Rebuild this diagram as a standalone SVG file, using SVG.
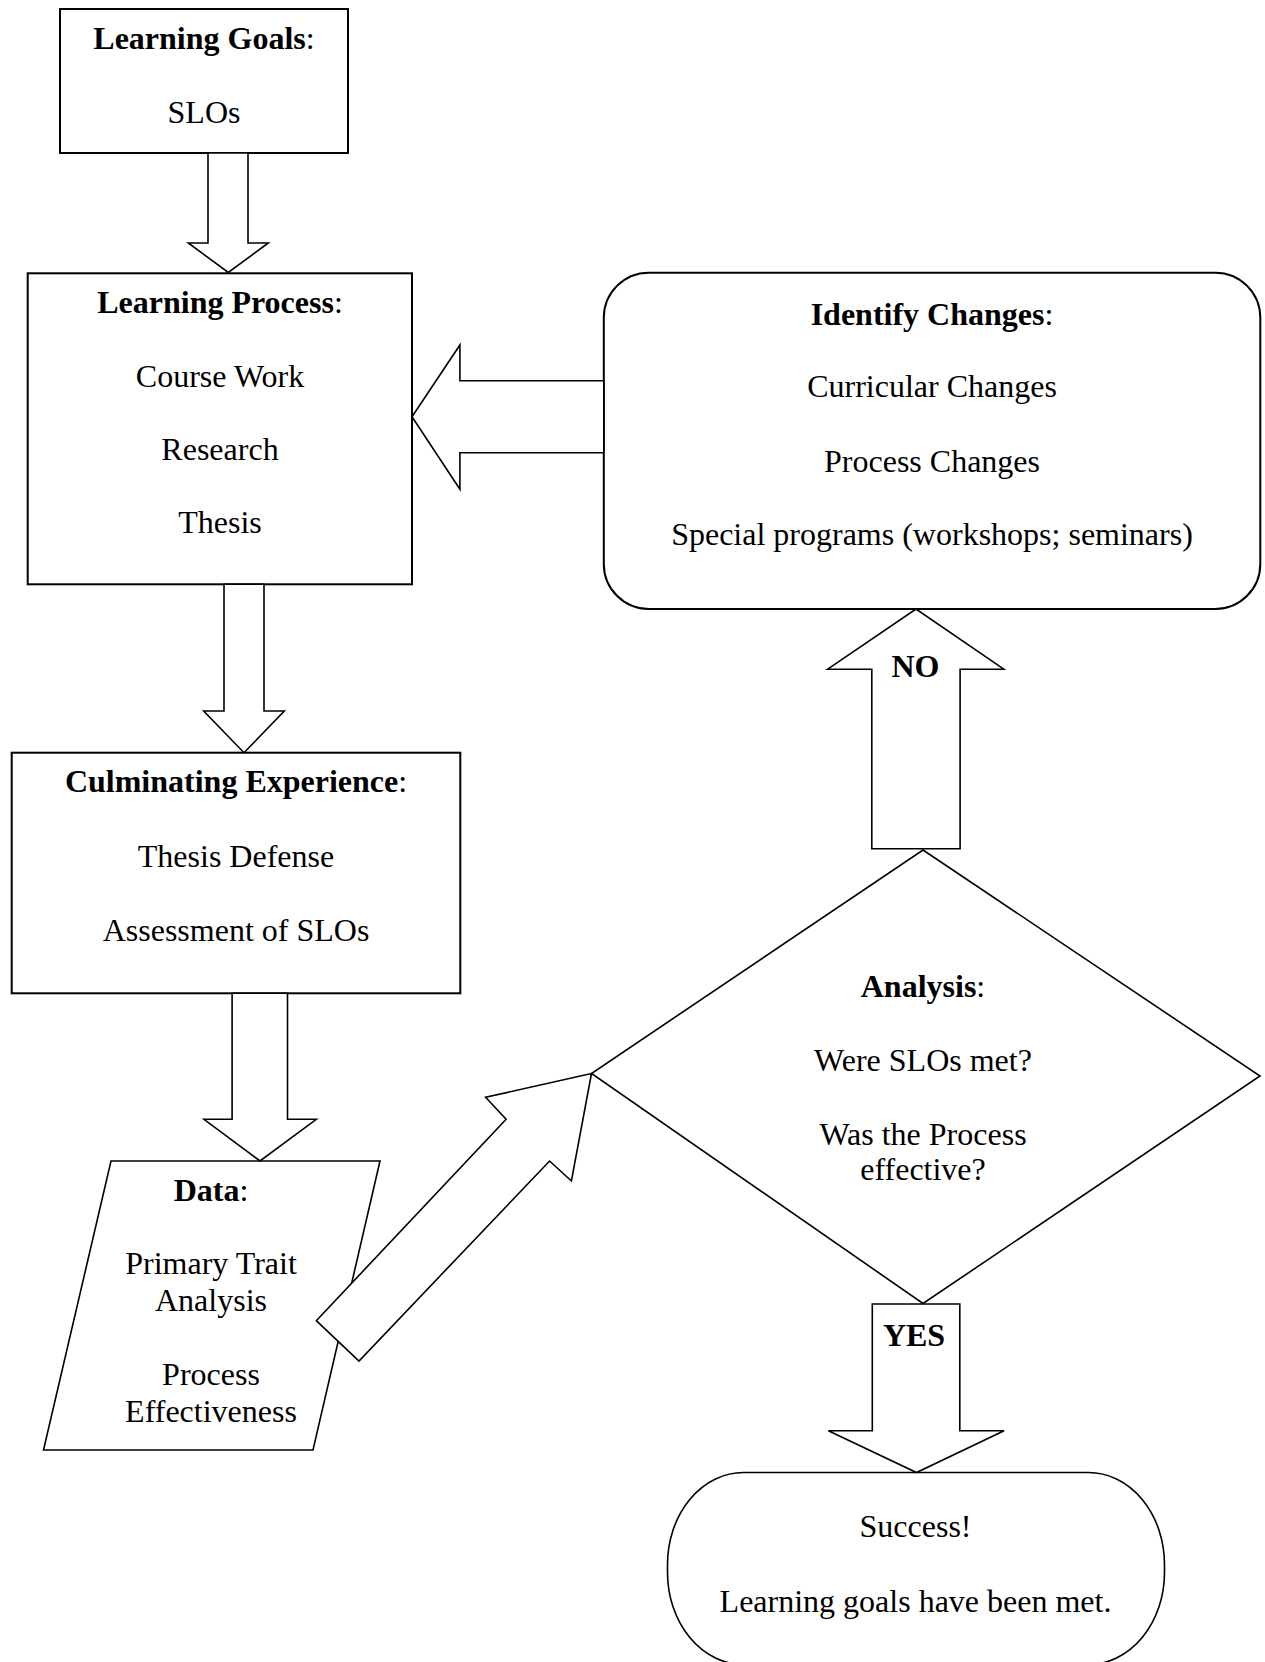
<svg xmlns="http://www.w3.org/2000/svg" width="1265" height="1662" viewBox="0 0 1265 1662">
<style>
  .box { fill: #fff; stroke: #000; stroke-width: 2; }
  .shape { fill: #fff; stroke: #000; stroke-width: 1.6; stroke-linejoin: miter; }
  .arrow { fill: #fff; stroke: #000; stroke-width: 1.6; stroke-linejoin: miter; }
  text { font-family: "Liberation Serif", "Times New Roman", serif; font-size: 32px; fill: #000; text-anchor: middle; }
  .b { font-weight: bold; }
</style>
<rect width="1265" height="1662" fill="#fff"/>

<g id="learning-goals">
  <rect class="box" x="60" y="9" width="288" height="144"/>
  <text x="204" y="49"><tspan class="b">Learning Goals</tspan>:</text>
  <text x="204" y="123">SLOs</text>
</g>

<g id="learning-process">
  <rect class="box" x="27.7" y="273.3" width="384.3" height="311"/>
  <text x="220" y="312.7"><tspan class="b">Learning Process</tspan>:</text>
  <text x="220" y="386.7">Course Work</text>
  <text x="220" y="459.8">Research</text>
  <text x="220" y="533.3">Thesis</text>
</g>

<g id="identify-changes">
  <rect class="box" x="603.8" y="272.7" width="656.5" height="336.3" rx="45" ry="45"/>
  <text x="932" y="325"><tspan class="b">Identify Changes</tspan>:</text>
  <text x="932" y="397">Curricular Changes</text>
  <text x="932" y="471.7">Process Changes</text>
  <text x="932" y="545">Special programs (workshops; seminars)</text>
</g>

<g id="culminating-experience">
  <rect class="box" x="11.7" y="752.7" width="448.6" height="240.6"/>
  <text x="236" y="792.3"><tspan class="b">Culminating Experience</tspan>:</text>
  <text x="236" y="866.7">Thesis Defense</text>
  <text x="236" y="941">Assessment of SLOs</text>
</g>

<g id="data">
  <polygon class="shape" points="111,1161 380,1161 313,1450 43.5,1450"/>
  <text x="211" y="1200.7"><tspan class="b">Data</tspan>:</text>
  <text x="211" y="1274">Primary Trait</text>
  <text x="211" y="1311">Analysis</text>
  <text x="211" y="1384.5">Process</text>
  <text x="211" y="1421.5">Effectiveness</text>
</g>

<g id="analysis">
  <polygon class="shape" points="923,850 1260,1076 923,1303.5 591.5,1073.5"/>
  <text x="923" y="997"><tspan class="b">Analysis</tspan>:</text>
  <text x="923" y="1070.5">Were SLOs met?</text>
  <text x="923" y="1144.6">Was the Process</text>
  <text x="923" y="1180.4">effective?</text>
</g>

<g id="success">
  <rect class="shape" x="667.5" y="1472.5" width="497" height="192" rx="76" ry="92"/>
  <text x="915.5" y="1537.3">Success!</text>
  <text x="915.5" y="1611.7">Learning goals have been met.</text>
</g>

<g id="connectors">
  <polygon class="arrow" points="208,153 208,243 188.3,243 228.3,272.5 268.3,243 248,243 248,153"/>
  <polygon class="arrow" points="224,584.3 224,711 203.7,711 244,752.7 284.3,711 264,711 264,584.3"/>
  <polygon class="arrow" points="232.1,993.3 232.1,1119.3 204,1119.3 260,1161 316.3,1119.3 287.5,1119.3 287.5,993.3"/>
  <polygon class="arrow" points="603.8,380.7 459.9,380.7 459.9,345 412,416.7 459.9,489.3 459.9,452.7 603.8,452.7"/>
  <polygon class="arrow" points="871.8,848.7 871.8,669.2 827.7,669.2 916,609 1003.8,669.2 960.1,669.2 960.1,848.7"/>
  <polygon class="arrow" points="872.3,1304 872.3,1430.7 828.4,1430.7 916.5,1472.5 1004.1,1430.7 959.8,1430.7 959.8,1304"/>
  <polygon class="arrow" points="316.3,1320.7 506.1,1119.3 485.6,1097.3 591.5,1073.5 571.4,1181 549.6,1161 359,1361"/>
  <text class="b" x="915.5" y="676.8">NO</text>
  <text class="b" x="914" y="1346">YES</text>
</g>
</svg>
